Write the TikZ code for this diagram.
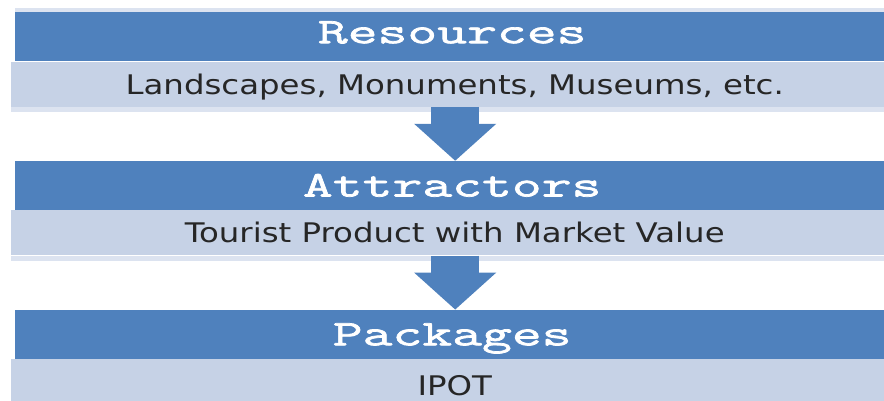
\documentclass[tikz,border=0pt]{standalone}
\usepackage{fontspec}
\usetikzlibrary{positioning,arrows.meta}

\newfontfamily\titlefont[FakeStretch=1.61, FakeBold=2]{Latin Modern Mono}
\newfontfamily\descfont[FakeStretch=1.2]{DejaVu Sans}

\definecolor{bandblue}{HTML}{4F81BD}
\definecolor{bandlight}{HTML}{C6D2E6}
\definecolor{bandpale}{HTML}{DCE3F0}

\tikzset{
  titleband/.style={rectangle, fill=bandblue, inner sep=0pt,
    minimum width=874pt, minimum height=49pt,
    text height=22pt, text depth=0pt, text=white,
    font=\titlefont\fontsize{36}{36}\selectfont},
  descband/.style={rectangle, fill=bandlight, inner sep=0pt,
    minimum width=887pt, minimum height=45pt,
    text height=20pt, text depth=0pt, text=black!85,
    font=\descfont\fontsize{27}{27}\selectfont},
  flowarrow/.style={draw=bandblue, line width=48pt,
    -{Triangle[width=80pt, length=37pt]}}
}

\begin{document}
\begin{tikzpicture}[x=1pt, y=-1pt]
  \useasboundingbox (0,0) rectangle (884,400);
  % Bands
  \node[titleband, anchor=north west, text depth=9pt] (res) at (15,12) {Resources};
  \node[descband, below=0pt of res, xshift=2.5pt] (resdesc) {Landscapes, Monuments, Museums, etc.};
  \node[titleband, below=54pt of resdesc, xshift=-2.5pt] (attr) {Attractors};
  \node[descband, below=0pt of attr, xshift=2.5pt] (attrdesc) {Tourist Product with Market Value};
  \node[titleband, below=54pt of attrdesc, xshift=-2.5pt] (pack) {Packages};
  \node[descband, below=0pt of pack, xshift=2.5pt, minimum height=52pt] (packdesc) {IPOT};
  % Pale edges
  \fill[bandpale] (res.north west) rectangle ([yshift=4pt]res.north east);
  \fill[bandpale] (resdesc.south west) rectangle ([yshift=-5pt]resdesc.south east);
  \fill[bandpale] (attrdesc.south west) rectangle ([yshift=-5pt]attrdesc.south east);
  % Flow arrows
  \draw[flowarrow] ([xshift=3pt]attr.north |- resdesc.south) -- ([xshift=3pt]attr.north);
  \draw[flowarrow] ([xshift=3pt]pack.north |- attrdesc.south) -- ([xshift=3pt]pack.north);
\end{tikzpicture}
\end{document}
